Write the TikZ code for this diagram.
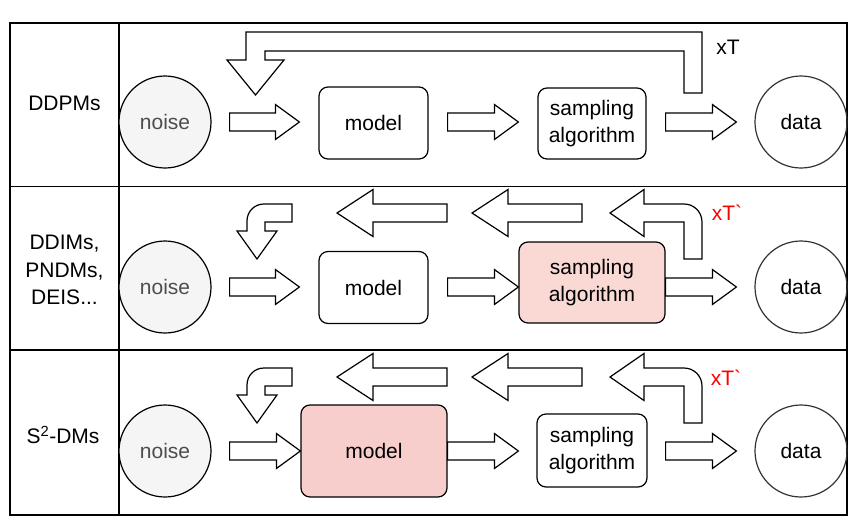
\documentclass[tikz,border=0pt]{standalone}
\usepackage{fontspec}
\setmainfont{Liberation Sans}[Ligatures=TeXOff]
\usetikzlibrary{calc}
\definecolor{noisefill}{HTML}{F5F5F5}
\definecolor{noisetext}{HTML}{4D4D4D}
\definecolor{pinksamp}{HTML}{FAD9D5}
\definecolor{pinkmodel}{HTML}{F8CECC}
\definecolor{datagray}{HTML}{333333}
% block arrow from one anchor to another (left to right)
\newcommand{\rblock}[2]{%
  \draw[blk] let \p1=(#1), \p2=(#2) in
    (\x1,\y1+9pt) -- (\x2-24pt,\y1+9pt) -- (\x2-24pt,\y1+17.5pt) -- (\x2,\y1)
    -- (\x2-24pt,\y1-17.5pt) -- (\x2-24pt,\y1-9pt) -- (\x1,\y1-9pt) -- cycle;}
% big block arrow pointing left: tail x, tip x, y
\newcommand{\lblock}[3]{%
  \draw[blk] (#1,#3-9) -- (#2+36,#3-9) -- (#2+36,#3-23.5) -- (#2,#3)
    -- (#2+36,#3+23.5) -- (#2+36,#3+9) -- (#1,#3+9) -- cycle;}
% bent arrows of the loop, y = row centre
\newcommand{\bentdown}[1]{%
  \draw[blk] (292,#1-83) -- (264,#1-83) .. controls (254.5,#1-83) and (247,#1-75.5) .. (247,#1-66)
    -- (247,#1-56) -- (237,#1-56) -- (257,#1-28) -- (277,#1-56) -- (265,#1-56)
    -- (265,#1-65) -- (292,#1-65) -- cycle;}
\newcommand{\bentleft}[1]{%
  \draw[blk] (644,#1-65) -- (644,#1-50.5) -- (610,#1-74) -- (644,#1-97.5) -- (644,#1-83)
    -- (684,#1-83) .. controls (694,#1-83) and (702,#1-75) .. (702,#1-65)
    -- (702,#1-28) -- (684,#1-28) -- (684,#1-65) -- cycle;}
\begin{document}
\begin{tikzpicture}[x=1pt,y=-1pt,
  every node/.style={font=\fontsize{21}{27.5}\selectfont},
  tbl/.style={line width=1.5pt},
  blk/.style={draw,line width=1.2pt,fill=white,line join=miter},
  box/.style={draw,line width=1.2pt,rounded corners=9pt,align=center,inner sep=0pt},
  noisecirc/.style={draw,line width=1.2pt,circle,fill=noisefill,text=noisetext,minimum size=92pt,inner sep=0pt},
  datacirc/.style={draw=datagray,line width=1.2pt,circle,minimum size=92pt,inner sep=0pt},
  loopnote/.style={text=red}]
\useasboundingbox (0,0) rectangle (855,523);
% Draw table
\draw[tbl] (10,23) rectangle (847,515);
\draw[tbl] (10,186.5) -- (847,186.5);
\draw[tbl] (10,350) -- (847,350);
\draw[tbl] (119,23) -- (119,515);
% Row labels
\node (lab1) at (64.5,103) {DDPMs};
\node[align=center] (lab2) at (64.5,270) {DDIMs,\\PNDMs,\\DEIS...};
\node (lab3) at (63,435) {S\textsuperscript{2}-DMs};
% Row 1
\node[noisecirc] (noise1) at (165,122) {noise};
\node[box,minimum width=109pt,minimum height=72pt] (model1) at (373.5,123) {model};
\node[box,minimum width=108pt,minimum height=71pt] (samp1) at (592,123.5) {sampling\\algorithm};
\node[datacirc] (data1) at (801,122) {data};
\rblock{[xshift=18pt]noise1.east}{[xshift=-19pt]model1.west}
\rblock{[xshift=19pt]model1.east |- noise1}{[xshift=-19pt]samp1.west |- noise1}
\rblock{[xshift=19pt]samp1.east |- noise1}{[xshift=-18pt]data1.west}
\draw[blk] (684,93) -- (684,51) -- (265,51) -- (265,60) -- (284,60) -- (255.5,95)
  -- (227,60) -- (246,60) -- (246,32) -- (702,32) -- (702,93) -- cycle;
\node (rep1) at (728,47) {xT};
% Row 2
\node[noisecirc] (noise2) at (165,287) {noise};
\node[box,minimum width=109pt,minimum height=72pt] (model2) at (373.5,287.5) {model};
\node[box,fill=pinksamp,minimum width=146pt,minimum height=81pt] (samp2) at (592,282.5) {sampling\\algorithm};
\node[datacirc] (data2) at (801,287) {data};
\rblock{[xshift=18pt]noise2.east}{[xshift=-19pt]model2.west |- noise2}
\rblock{[xshift=19pt]model2.east |- noise2}{samp2.west |- noise2}
\rblock{samp2.east |- noise2}{[xshift=-18pt]data2.west}
\bentdown{287}
\lblock{447}{337}{213}
\lblock{582}{472}{213}
\bentleft{287}
\node[loopnote] (rep2) at (727,213) {xT`};
% Row 3
\node[noisecirc] (noise3) at (165,451) {noise};
\node[box,fill=pinkmodel,minimum width=146pt,minimum height=92pt] (model3) at (374,451) {model};
\node[box,minimum width=110pt,minimum height=73pt] (samp3) at (592,450.5) {sampling\\algorithm};
\node[datacirc] (data3) at (801,451) {data};
\rblock{[xshift=18pt]noise3.east}{model3.west}
\rblock{model3.east}{[xshift=-18pt]samp3.west |- noise3}
\rblock{[xshift=18pt]samp3.east |- noise3}{[xshift=-18pt]data3.west}
\bentdown{451}
\lblock{447}{337}{377}
\lblock{582}{472}{377}
\bentleft{451}
\node[loopnote] (rep3) at (726,378) {xT`};
\end{tikzpicture}
\end{document}
